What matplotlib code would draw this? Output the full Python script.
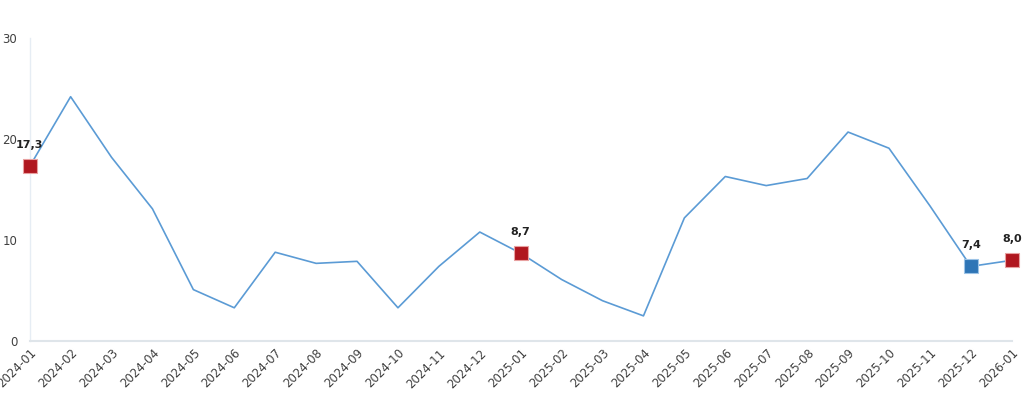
import numpy as np
import matplotlib.pyplot as plt

months = ['2024-01', '2024-02', '2024-03', '2024-04', '2024-05', '2024-06', '2024-07',
          '2024-08', '2024-09', '2024-10', '2024-11', '2024-12', '2025-01', '2025-02',
          '2025-03', '2025-04', '2025-05', '2025-06', '2025-07', '2025-08', '2025-09',
          '2025-10', '2025-11', '2025-12', '2026-01']
values = [17.3, 24.2, 18.2, 13.1, 5.1, 3.3, 8.8, 7.7, 7.9, 3.3, 7.4, 10.8, 8.7,
          6.1, 4.0, 2.5, 12.2, 16.3, 15.4, 16.1, 20.7, 19.1, 13.4, 7.4, 8.0]

# highlighted points: index, label, colour
marked = [0, 12, 23, 24]
marked_labels = ['17,3', '8,7', '7,4', '8,0']
marked_colors = ['#b0171f', '#b0171f', '#2e75b6', '#b0171f']

fig = plt.figure(figsize=(10.24, 3.93), dpi=100)
ax = fig.add_axes([0.029, 0.132, 0.959, 0.771])

x = np.arange(len(months))
ax.plot(x, values, color='#5b9bd5', lw=1.2, zorder=2)

for i, lab, c in zip(marked, marked_labels, marked_colors):
    ax.plot(x[i], values[i], marker='s', ms=9.5, color=c,
            mec='#e8a0a0' if c != '#2e75b6' else '#9cc3e6', mew=0.8, zorder=3)
    ax.annotate(lab, (x[i], values[i]), xytext=(0, 12), textcoords='offset points',
                ha='center', va='bottom', fontsize=8, fontweight='bold', color='#222222')

ax.set_xlim(0, len(months) - 1)
ax.set_ylim(0, 30)
ax.set_yticks([0, 10, 20, 30])
ax.set_xticks(x)
ax.set_xticklabels(months, rotation=45, ha='right', rotation_mode='anchor')

for s in ['top', 'right']:
    ax.spines[s].set_visible(False)
ax.spines['left'].set_color('#e6edf4')
ax.spines['bottom'].set_color('#dfe5ea')
ax.spines['left'].set_linewidth(1)
ax.spines['bottom'].set_linewidth(1.5)
ax.tick_params(axis='both', length=0, labelsize=8.5, labelcolor='#404040')
ax.tick_params(axis='y', pad=9)
ax.tick_params(axis='x', pad=4)
for line in ax.lines:
    line.set_clip_on(False)

fig.savefig('out.png', dpi=100)
